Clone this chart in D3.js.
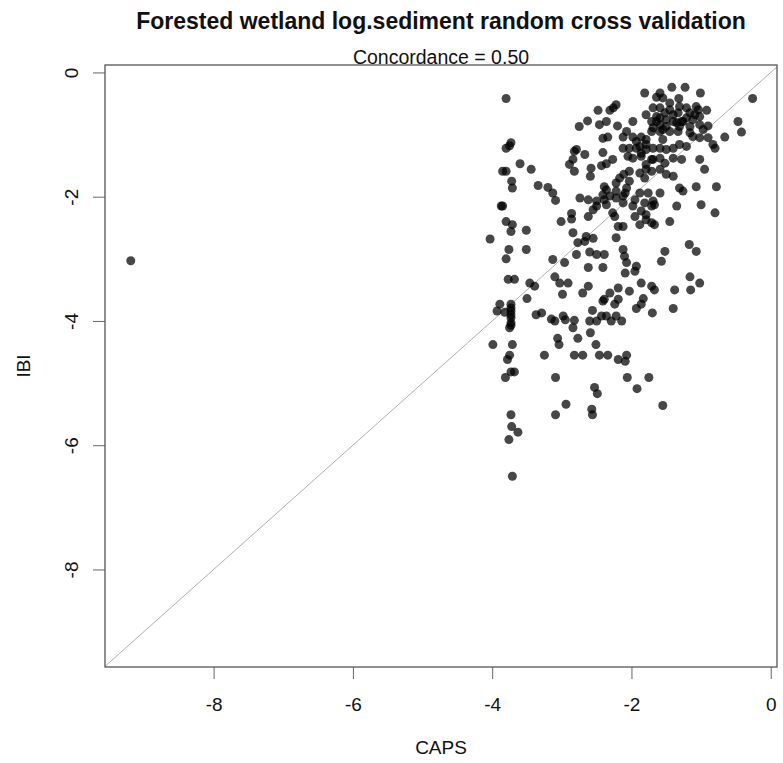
<!DOCTYPE html>
<html>
<head>
<meta charset="utf-8">
<script src="https://cdn.jsdelivr.net/npm/d3@7"></script>
<style>
  body { margin: 0; background: #fff; }
  text { font-family: "Liberation Sans", Arial, sans-serif; }
</style>
</head>
<body>
<div id="chart"></div>
<script>
// chart text
const title = "Forested wetland log.sediment random cross validation";
const subtitle = "Concordance = 0.50";
const xLabel = "CAPS";
const yLabel = "IBI";
const xTicks = [-8, -6, -4, -2, 0];
const yTicks = [0, -2, -4, -6, -8];

// predicted (CAPS) values
const caps = [
  -3.80, -1.81, -1.59, -1.42, -1.23, -1.01, -0.26, -1.64, -1.55, -1.32,
  -2.22, -2.26, -2.48, -2.31, -1.69, -1.59, -1.45, -1.31, -1.21, -1.07,
  -1.04, -0.92, -1.79, -1.64, -1.52, -1.40, -1.33, -1.16, -1.09, -2.63,
  -2.75, -2.46, -2.36, -2.20, -1.98, -1.71, -1.59, -1.50, -1.35, -1.26,
  -1.16, -1.02, -0.90, -0.47, -0.42, -0.66, -2.07, -2.12, -1.98, -1.86,
  -1.79, -2.41, -2.34, -1.71, -1.59, -1.45, -1.33, -1.16, -1.02, -0.90,
  -0.83, -0.80, -3.73, -3.75, -3.80, -2.82, -2.79, -2.67, -2.41, -2.12,
  -2.03, -1.88, -1.79, -1.69, -1.59, -1.40, -1.31, -1.21, -2.84, -2.89,
  -2.82, -2.58, -2.59, -2.43, -2.36, -2.27, -1.98, -1.86, -1.79, -1.69,
  -1.59, -1.52, -1.40, -1.28, -1.02, -0.95, -3.85, -3.80, -3.60, -3.44,
  -3.72, -3.71, -3.34, -3.20, -3.13, -3.09, -2.11, -2.03, -2.07, -1.88,
  -1.79, -1.71, -1.59, -1.50, -1.40, -1.31, -1.26, -1.07, -0.78, -2.39,
  -2.22, -2.22, -2.41, -2.31, -2.22, -2.12, -2.09, -2.74, -2.62, -2.50,
  -2.39, -1.88, -1.76, -1.59, -1.69, -1.81, -1.71, -1.67, -1.95, -1.35,
  -1.00, -0.80, -3.87, -3.85, -3.80, -3.71, -3.73, -3.51, -3.01, -2.86,
  -2.86, -2.62, -2.55, -2.50, -2.36, -2.27, -2.24, -2.19, -2.12, -1.98,
  -1.86, -1.95, -1.79, -1.88, -1.71, -1.67, -1.45, -4.03, -3.76, -3.80,
  -3.51, -2.84, -2.77, -2.65, -2.67, -2.55, -2.22, -3.13, -2.96, -2.79,
  -2.60, -2.50, -2.39, -2.12, -2.10, -2.07, -2.62, -2.41, -1.93, -2.09,
  -1.57, -1.52, -1.17, -1.07, -1.95, -3.77, -3.68, -3.46, -3.39, -3.10,
  -3.03, -2.91, -2.62, -2.70, -2.99, -3.50, -2.19, -2.03, -1.86, -1.71,
  -1.67, -1.38, -1.16, -1.15, -1.02, -2.31, -2.39, -2.41, -2.24, -2.19,
  -1.93, -1.86, -1.83, -1.70, -1.40, -3.89, -3.73, -3.93, -3.82, -3.73,
  -3.73, -3.73, -3.75, -3.37, -3.29, -3.15, -3.10, -2.98, -2.95, -2.82,
  -2.84, -2.56, -2.60, -2.50, -2.43, -2.36, -2.29, -2.22, -2.14, -2.59,
  -2.51, -2.77, -3.06, -3.04, -3.99, -3.71, -3.25, -2.82, -2.70, -2.46,
  -2.34, -2.19, -2.07, -2.09, -3.75, -3.78, -3.68, -3.73, -3.81, -3.09,
  -2.06, -1.75, -1.92, -2.53, -2.49, -2.94, -3.09, -2.57, -2.56, -1.55,
  -3.73, -3.72, -3.63, -3.76, -3.71, -9.19, -3.73, -3.73, -3.73,
  -1.64, -1.50, -1.40, -1.69, -1.55, -1.31, -1.12, -1.02, -0.97, -1.12,
  -1.55, -1.93, -1.79, -1.93, -1.86, -1.71, -1.50, -1.59, -1.21, -1.28,
  -1.45, -2.05, -2.17, -2.03, -1.81, -2.36, -2.12, -1.79
];

// observed (IBI) values, same order
const ibi = [
  -0.42, -0.33, -0.33, -0.24, -0.24, -0.33, -0.42, -0.40, -0.41, -0.42,
  -0.52, -0.57, -0.61, -0.61, -0.57, -0.57, -0.60, -0.55, -0.57, -0.55,
  -0.60, -0.61, -0.68, -0.71, -0.65, -0.68, -0.65, -0.65, -0.68, -0.78,
  -0.87, -0.84, -0.79, -0.86, -0.79, -0.79, -0.84, -0.87, -0.81, -0.79,
  -0.87, -0.84, -0.86, -0.79, -0.96, -1.04, -0.95, -1.04, -1.04, -1.04,
  -1.08, -1.06, -1.04, -0.95, -0.95, -0.95, -0.95, -0.97, -1.05, -1.05,
  -1.16, -1.22, -1.13, -1.18, -1.22, -1.27, -1.24, -1.32, -1.29, -1.22,
  -1.22, -1.19, -1.24, -1.22, -1.22, -1.22, -1.16, -1.19, -1.40, -1.48,
  -1.59, -1.54, -1.67, -1.50, -1.47, -1.40, -1.38, -1.35, -1.48, -1.40,
  -1.38, -1.46, -1.38, -1.40, -1.40, -1.56, -1.59, -1.59, -1.47, -1.56,
  -1.75, -1.86, -1.82, -1.85, -1.94, -2.06, -1.64, -1.75, -1.86, -1.62,
  -1.56, -1.59, -1.56, -1.64, -1.67, -1.86, -1.91, -1.84, -1.84, -1.84,
  -1.78, -1.91, -1.97, -1.99, -2.02, -1.99, -1.94, -2.02, -2.05, -2.07,
  -2.05, -1.94, -1.94, -1.94, -2.07, -2.10, -2.15, -2.13, -2.05, -2.15,
  -2.13, -2.26, -2.15, -2.15, -2.40, -2.45, -2.56, -2.54, -2.40, -2.27,
  -2.36, -2.32, -2.21, -2.15, -2.13, -2.26, -2.32, -2.48, -2.48, -2.15,
  -2.23, -2.32, -2.37, -2.45, -2.42, -2.45, -2.40, -2.68, -2.85, -3.00,
  -2.85, -2.58, -2.74, -2.64, -2.72, -2.67, -2.66, -3.01, -3.06, -2.93,
  -2.89, -2.93, -2.93, -2.85, -2.96, -3.06, -3.14, -3.14, -3.12, -3.23,
  -3.04, -2.88, -2.77, -2.88, -3.20, -3.33, -3.33, -3.39, -3.44, -3.29,
  -3.39, -3.39, -3.44, -3.55, -3.57, -3.64, -3.47, -3.52, -3.39, -3.44,
  -3.50, -3.50, -3.29, -3.50, -3.39, -3.55, -3.65, -3.68, -3.73, -3.65,
  -3.80, -3.73, -3.64, -3.87, -3.80, -3.73, -3.73, -3.84, -3.86, -3.84,
  -3.95, -4.03, -4.11, -3.90, -3.87, -3.97, -4.00, -3.92, -3.98, -3.99,
  -4.11, -3.83, -4.00, -4.00, -3.92, -3.92, -4.00, -3.92, -4.00, -4.19,
  -4.38, -4.28, -4.28, -4.38, -4.38, -4.38, -4.55, -4.55, -4.55, -4.55,
  -4.55, -4.62, -4.55, -4.65, -4.55, -4.62, -4.82, -4.82, -4.91, -4.91,
  -4.91, -4.91, -5.09, -5.07, -5.17, -5.34, -5.51, -5.42, -5.51, -5.36,
  -5.51, -5.70, -5.79, -5.91, -6.50, -3.03, -3.79, -3.90, -4.07,
  -0.79, -0.76, -0.79, -0.89, -0.92, -0.87, -0.76, -0.71, -0.92, -1.03,
  -1.08, -1.11, -1.16, -1.22, -1.30, -1.40, -1.24, -0.73, -0.73, -0.79,
  -0.49, -1.35, -1.70, -1.59, -1.70, -1.89, -2.10, -2.29
];

const svg = d3.select("#chart").append("svg")
    .attr("width", 783)
    .attr("height", 763);

const margin = {top: 65, right: 6, bottom: 96, left: 105},
      width = 783 - margin.left - margin.right,
      height = 763 - margin.top - margin.bottom;

const x = d3.scaleLinear().domain([-9.56, 0.09]).range([0, width]),
      y = d3.scaleLinear().domain([-9.57, 0.12]).range([height, 0]);

const g = svg.append("g")
    .attr("transform", `translate(${margin.left},${margin.top})`);

// 1:1 reference line
g.append("line")
    .attr("x1", x(-9.56)).attr("y1", y(-9.56))
    .attr("x2", x(0.09)).attr("y2", y(0.09))
    .attr("stroke", "#b0b0b0")
    .attr("stroke-width", 1);

// points
const points = caps.map((c, i) => ({caps: c, ibi: ibi[i]}));
g.selectAll(".dot")
    .data(points)
    .enter().append("circle")
    .attr("class", "dot")
    .attr("cx", d => x(d.caps))
    .attr("cy", d => y(d.ibi))
    .attr("r", 4.5)
    .attr("fill", "rgba(0,0,0,0.72)");

// axes
const xAxis = g.append("g")
    .attr("transform", `translate(0,${height})`)
    .call(d3.axisBottom(x).tickValues(xTicks).tickSize(12).tickPadding(19).tickFormat(d => String(d)));
xAxis.select(".domain").remove();
xAxis.selectAll("line").attr("stroke", "#666");
xAxis.selectAll("text").attr("font-size", 19).attr("fill", "#111")
    .attr("font-family", "Liberation Sans, Arial, sans-serif");

const yAxis = g.append("g")
    .call(d3.axisLeft(y).tickValues(yTicks).tickSize(12).tickFormat(d => String(d)));
yAxis.select(".domain").remove();
yAxis.selectAll("line").attr("stroke", "#666");
yAxis.selectAll("text")
    .attr("font-size", 19).attr("fill", "#111")
    .attr("font-family", "Liberation Sans, Arial, sans-serif")
    .attr("text-anchor", "middle")
    .attr("x", null)
    .attr("transform", "translate(-34,0) rotate(-90)")
    .attr("dy", "0.35em");

// box
g.append("rect")
    .attr("width", width)
    .attr("height", height)
    .attr("fill", "none")
    .attr("stroke", "#555")
    .attr("stroke-width", 1.3);

// titles
svg.append("text")
    .attr("x", margin.left + width / 2)
    .attr("y", 28.5)
    .attr("text-anchor", "middle")
    .attr("font-size", 23)
    .attr("font-weight", "bold")
    .attr("fill", "#111")
    .text(title);

svg.append("text")
    .attr("x", margin.left + width / 2)
    .attr("y", 64)
    .attr("text-anchor", "middle")
    .attr("font-size", 19.5)
    .attr("fill", "#111")
    .text(subtitle);

svg.append("text")
    .attr("x", margin.left + width / 2)
    .attr("y", 754)
    .attr("text-anchor", "middle")
    .attr("font-size", 19)
    .attr("fill", "#111")
    .text(xLabel);

svg.append("text")
    .attr("transform", `translate(30,${margin.top + height / 2}) rotate(-90)`)
    .attr("text-anchor", "middle")
    .attr("font-size", 19)
    .attr("fill", "#111")
    .text(yLabel);
</script>
</body>
</html>
